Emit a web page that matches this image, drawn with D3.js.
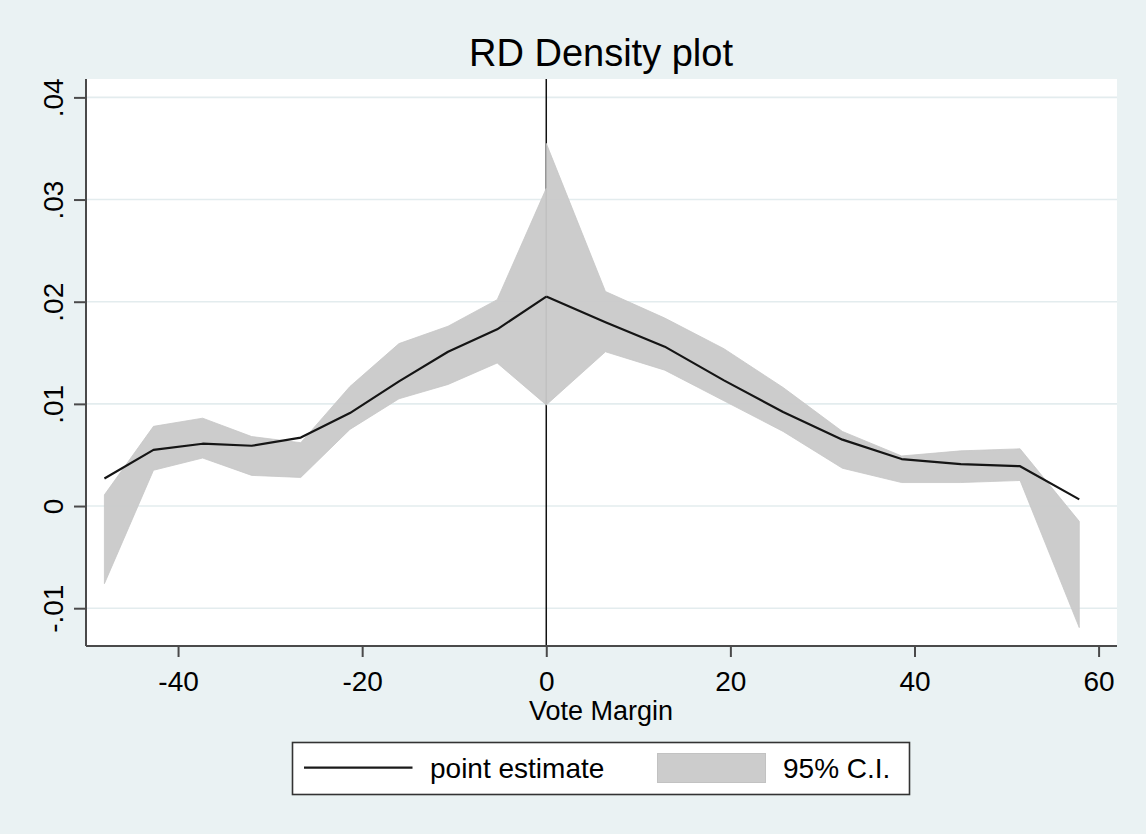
<!DOCTYPE html>
<html>
<head>
<meta charset="utf-8">
<script src="https://cdn.jsdelivr.net/npm/d3@7"></script>
<style>
  html, body { margin: 0; padding: 0; background: #eaf2f3; }
  svg { display: block; font-family: "Liberation Sans", Arial, sans-serif; }
</style>
</head>
<body>
<svg id="chart" width="1146" height="834"></svg>
<script>
// ---- Data ----
const leftX      = [-48, -42.67, -37.33, -32, -26.67, -21.33, -16, -10.67, -5.33, 0];
const leftEst    = [0.0027, 0.0055, 0.0061, 0.0059, 0.0067, 0.0091, 0.0122, 0.0151, 0.0173, 0.0205];
const leftUpper  = [0.0011, 0.0078, 0.0086, 0.0068, 0.0062, 0.0117, 0.0159, 0.0176, 0.0202, 0.0311];
const leftLower  = [-0.0076, 0.0035, 0.0047, 0.0030, 0.0028, 0.0075, 0.0105, 0.0119, 0.0140, 0.0099];

const rightX     = [0, 6.43, 12.87, 19.3, 25.73, 32.17, 38.6, 45.03, 51.47, 57.9];
const rightEst   = [0.0205, 0.0180, 0.0156, 0.0123, 0.0092, 0.0065, 0.0046, 0.0041, 0.0039, 0.00065];
const rightUpper = [0.0355, 0.0210, 0.0184, 0.0154, 0.0116, 0.0073, 0.0049, 0.0054, 0.0056, -0.0015];
const rightLower = [0.0099, 0.0151, 0.0133, 0.0103, 0.0073, 0.0037, 0.0023, 0.0023, 0.0025, -0.0119];

const xTicks = [-40, -20, 0, 20, 40, 60];
const xTickLabels = ["-40", "-20", "0", "20", "40", "60"];
const yTicks = [-0.01, 0, 0.01, 0.02, 0.03, 0.04];
const yTickLabels = ["-.01", "0", ".01", ".02", ".03", ".04"];

const titleText = "RD Density plot";
const xTitle = "Vote Margin";
const legendLabels = ["point estimate", "95% C.I."];

// ---- Layout ----
const W = 1146, H = 834;
const plot = { left: 86, right: 1117, top: 79, bottom: 646 };
const bg = "#eaf2f3", gridCol = "#e3ecee", bandFill = "rgb(201,201,201)";

const svg = d3.select("#chart");
svg.append("rect").attr("width", W).attr("height", H).attr("fill", bg);

const x = d3.scaleLinear().domain([-50, 62]).range([plot.left, plot.right]);
const y = d3.scaleLinear().domain([-0.0137, 0.0418]).range([plot.bottom, plot.top]);

// plot region
svg.append("rect")
  .attr("x", plot.left).attr("y", plot.top)
  .attr("width", plot.right - plot.left).attr("height", plot.bottom - plot.top)
  .attr("fill", "#ffffff");

// gridlines
svg.append("g").selectAll("line").data(yTicks).join("line")
  .attr("x1", plot.left).attr("x2", plot.right)
  .attr("y1", d => y(d)).attr("y2", d => y(d))
  .attr("stroke", gridCol).attr("stroke-width", 1.6);

// vertical line at cutoff
svg.append("line")
  .attr("x1", x(0)).attr("x2", x(0))
  .attr("y1", plot.top).attr("y2", plot.bottom)
  .attr("stroke", "#111").attr("stroke-width", 1.5);

// bands
const area = d3.area().x(d => x(d.x)).y0(d => y(d.lo)).y1(d => y(d.hi));
const mk = (xs, lo, hi) => xs.map((v, i) => ({ x: v, lo: lo[i], hi: hi[i] }));
[mk(leftX, leftLower, leftUpper), mk(rightX, rightLower, rightUpper)].forEach(dat => {
  svg.append("path").datum(dat).attr("d", area)
    .attr("fill", bandFill).attr("fill-opacity", 0.95)
    .attr("stroke", "#c6c6c6").attr("stroke-width", 0.8);
});

// point estimate lines
const line = d3.line().x(d => x(d.x)).y(d => y(d.y));
[[leftX, leftEst], [rightX, rightEst]].forEach(([xs, ys]) => {
  svg.append("path").datum(xs.map((v, i) => ({ x: v, y: ys[i] })))
    .attr("d", line).attr("fill", "none")
    .attr("stroke", "#151515").attr("stroke-width", 2.2).attr("stroke-linejoin", "round");
});

// axes
const axisCol = "#4a4a4a";
const xAxis = d3.axisBottom(x).tickValues(xTicks).tickFormat((d, i) => xTickLabels[i]).tickSize(11).tickSizeOuter(0).tickPadding(4);
const gx = svg.append("g").attr("transform", `translate(0,${plot.bottom})`).call(xAxis);
gx.select(".domain").attr("stroke", axisCol).attr("stroke-width", 2)
  .attr("d", `M${plot.left},0H${plot.right}`);
gx.selectAll(".tick line").attr("stroke", axisCol).attr("stroke-width", 2);
gx.selectAll(".tick text").attr("font-size", 28).attr("fill", "#000")
  .attr("font-family", '"Liberation Sans", Arial, sans-serif')
  .attr("dy", null).attr("y", 45);

const yAxis = d3.axisLeft(y).tickValues(yTicks).tickFormat((d, i) => yTickLabels[i]).tickSize(12).tickSizeOuter(0);
const gy = svg.append("g").attr("transform", `translate(${plot.left},0)`).call(yAxis);
gy.select(".domain").attr("stroke", axisCol).attr("stroke-width", 2)
  .attr("d", `M0,${plot.top}V${plot.bottom}`);
gy.selectAll(".tick line").attr("stroke", axisCol).attr("stroke-width", 2);
gy.selectAll(".tick text").attr("font-size", 28).attr("fill", "#000")
  .attr("font-family", '"Liberation Sans", Arial, sans-serif')
  .attr("x", null).attr("dy", null).attr("text-anchor", "middle")
  .attr("transform", "translate(-23,0) rotate(-90)");

// title
svg.append("text").attr("x", 601).attr("y", 66).attr("text-anchor", "middle")
  .attr("font-size", 38).attr("fill", "#000").text(titleText);

// x axis title
svg.append("text").attr("x", 601).attr("y", 720).attr("text-anchor", "middle")
  .attr("font-size", 27).attr("fill", "#000").text(xTitle);

// legend
const lg = svg.append("g");
lg.append("rect").attr("x", 292.5).attr("y", 742.5).attr("width", 617).attr("height", 52)
  .attr("fill", "#fff").attr("stroke", "#333").attr("stroke-width", 1.6);
lg.append("line").attr("x1", 304).attr("x2", 412.5).attr("y1", 767.7).attr("y2", 767.7)
  .attr("stroke", "#1a1a1a").attr("stroke-width", 2.2);
lg.append("text").attr("x", 430).attr("y", 778.3).attr("font-size", 28).attr("fill", "#000").text(legendLabels[0]);
lg.append("rect").attr("x", 657.5).attr("y", 753.5).attr("width", 108).attr("height", 29)
  .attr("fill", "rgb(204,204,204)").attr("stroke", "#c2c2c2").attr("stroke-width", 1);
lg.append("text").attr("x", 783).attr("y", 778.3).attr("font-size", 28).attr("fill", "#000").text(legendLabels[1]);
</script>
</body>
</html>
